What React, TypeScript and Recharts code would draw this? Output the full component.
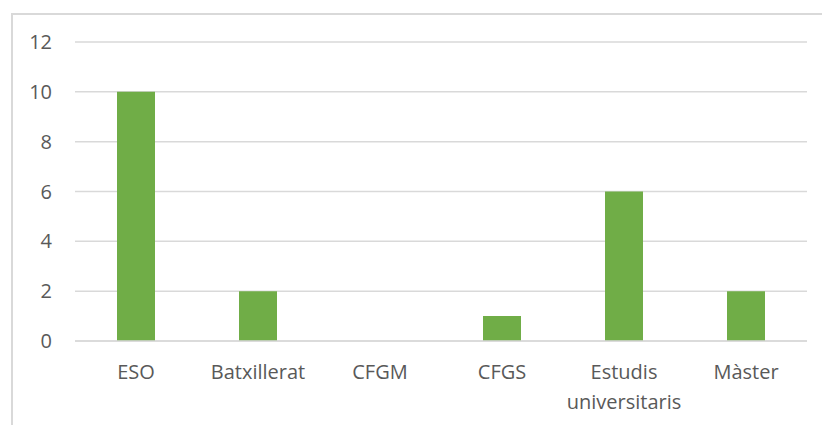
import { BarChart, Bar, XAxis, YAxis, CartesianGrid } from "recharts";

const categories = ["ESO", "Batxillerat", "CFGM", "CFGS", "Estudis universitaris", "Màster"];
const values = [10, 2, 0, 1, 6, 2];
const yTicks = [0, 2, 4, 6, 8, 10, 12];

const data = categories.map((name, i) => ({ name, value: values[i] }));

const FONT = "'Open Sans', sans-serif";

function CategoryTick(props: any) {
  const { x, y, payload } = props;
  const words: string[] = payload.value === "Estudis universitaris" ? ["Estudis", "universitaris"] : [payload.value];
  return (
    <text x={x} y={y} textAnchor="middle" fill="#595959" fontSize={20} fontFamily={FONT}>
      {words.map((w, i) => (
        <tspan key={i} x={x} dy={i === 0 ? "0.71em" : 30}>
          {w}
        </tspan>
      ))}
    </text>
  );
}

export default function App() {
  return (
    <div style={{ position: "absolute", left: 0, top: 0, width: 822, height: 425, background: "#fff", overflow: "hidden" }}>
      <div
        style={{
          position: "absolute",
          left: 11,
          top: 13,
          width: 830,
          height: 430,
          borderLeft: "2px solid #d9d9d9",
          borderTop: "2px solid #d9d9d9",
          boxSizing: "border-box",
        }}
      />
      <BarChart
        width={822}
        height={425}
        data={data}
        margin={{ top: 42, right: 15, left: 0, bottom: 0 }}
        style={{ position: "absolute", left: 0, top: 0 }}
      >
        <CartesianGrid vertical={false} stroke="#d9d9d9" strokeWidth={1.5} />
        <YAxis
          width={75}
          domain={[0, 12]}
          ticks={yTicks}
          axisLine={false}
          tickLine={false}
          tickSize={0}
          tickMargin={23}
          tick={{ fill: "#595959", fontSize: 20, fontFamily: FONT }}
        />
        <XAxis
          dataKey="name"
          height={84}
          interval={0}
          axisLine={{ stroke: "#d9d9d9", strokeWidth: 1.5 }}
          tickLine={false}
          tickSize={0}
          tickMargin={24}
          tick={<CategoryTick />}
        />
        <Bar dataKey="value" fill="#70ad47" barSize={38} isAnimationActive={false} />
      </BarChart>
    </div>
  );
}
